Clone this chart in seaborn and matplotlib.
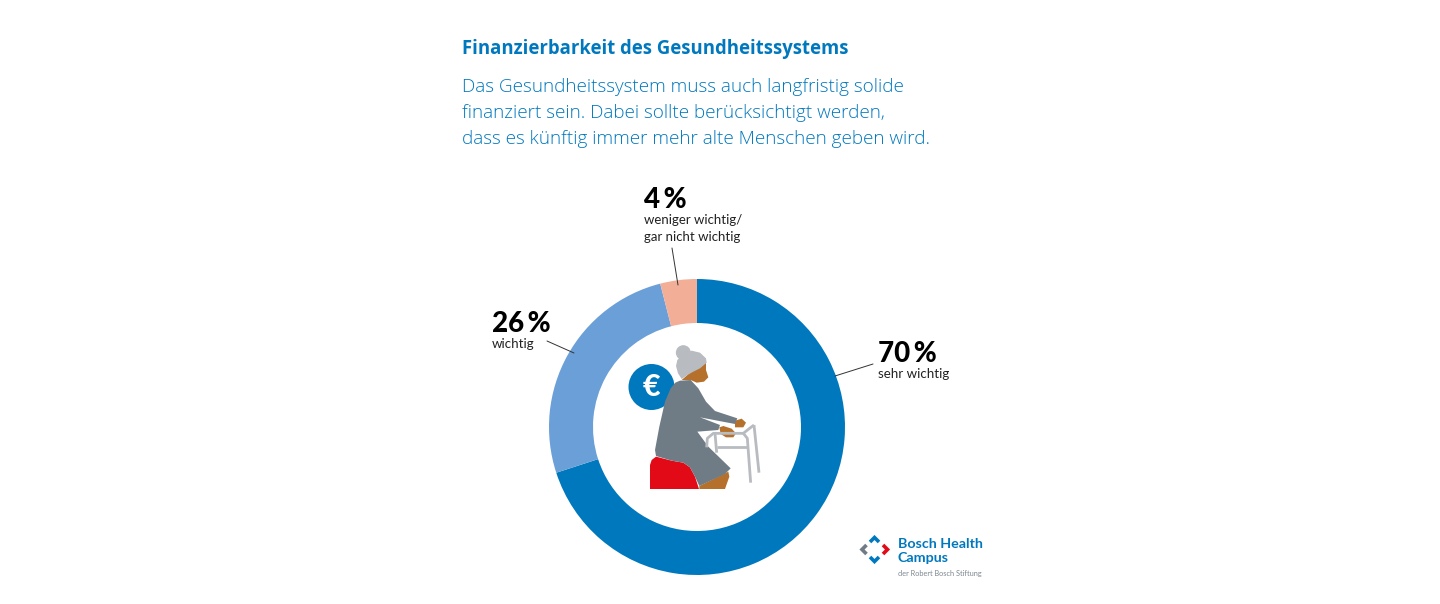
import matplotlib
matplotlib.use("Agg")
import matplotlib.pyplot as plt
from matplotlib.patches import Circle, Polygon
import seaborn as sns

# chart data
labels = ["sehr wichtig", "wichtig", "weniger wichtig/\ngar nicht wichtig"]
values = [70, 26, 4]
pct_labels = ["70\u2009%", "26\u2009%", "4\u2009%"]
colors = ["#0078BE", "#6A9FD8", "#F2AE97"]

title = "Finanzierbarkeit des Gesundheitssystems"
subtitle = [
    "Das Gesundheitssystem muss auch langfristig solide",
    "finanziert sein. Dabei sollte berücksichtigt werden,",
    "dass es künftig immer mehr alte Menschen geben wird.",
]

W, H = 1440, 604
BLUE = "#0078BE"
GREY = "#707C85"
SILVER = "#B8BBC0"
BROWN = "#B5712C"
RED = "#E20A17"

sns.set_theme(style="white")
plt.rcParams["font.family"] = ["Lato", "Open Sans", "DejaVu Sans"]


def y_(py):
    return H - py


def zoomed(points):
    return [(600 + x / 3, y_(330 + y / 3)) for x, y in points]


def fill(ax, points, color):
    ax.add_patch(Polygon(zoomed(points), color=color, lw=0))


def draw_person(ax):
    ax.add_patch(Circle((651.5, y_(387)), 23, color=BLUE, lw=0))
    ax.text(651.5, y_(386.5), "€", color="white", fontsize=22, fontweight="black",
            ha="center", va="center")

    # walker
    walker = [
        [(320, 352), (322, 325), (340, 310), (430, 310), (445, 298), (462, 285)],
        [(345, 310), (350, 368)],
        [(462, 285), (477, 428)],
        [(350, 350), (440, 350)],
        [(430, 310), (442, 325), (452, 458)],
    ]
    for line in walker:
        pts = zoomed(line)
        ax.plot([p[0] for p in pts], [p[1] for p in pts], color=SILVER, lw=2,
                solid_capstyle="butt", solid_joinstyle="round")

    # far hand
    fill(ax, [(405, 272), (425, 266), (438, 278), (430, 292), (405, 292)], BROWN)

    # leg below the dress
    fill(ax, [(298, 468), (385, 425), (388, 440), (375, 477), (298, 477)], BROWN)

    # seat
    fill(ax, [(150, 477), (150, 405), (155, 390), (168, 380), (215, 392), (250, 398),
              (270, 412), (285, 440), (297, 477)], RED)

    # body, far arm and dress
    body = [(240, 152), (272, 150), (295, 175), (318, 215), (345, 243), (412, 265), (405, 282),
            (300, 262), (360, 285), (355, 300), (292, 305), (325, 350), (392, 415), (375, 432),
            (298, 468), (285, 440), (270, 412), (250, 398), (215, 392), (168, 378), (165, 360),
            (178, 290), (195, 215), (212, 175), (226, 158)]
    fill(ax, body, GREY)

    # near hand
    fill(ax, [(358, 292), (370, 288), (395, 296), (408, 310), (400, 322), (378, 322), (362, 312)], BROWN)

    # face and neck
    fill(ax, [(285, 115), (318, 98), (318, 120), (325, 142), (312, 155), (290, 158), (272, 150),
              (245, 150), (262, 135)], BROWN)

    # hair
    ax.add_patch(Circle((600 + 250 / 3, y_(330 + 68 / 3)), 7.5, color=SILVER, lw=0))
    fill(ax, [(232, 90), (250, 72), (275, 62), (300, 68), (318, 85), (320, 98), (300, 115),
              (280, 125), (262, 135), (245, 147), (234, 130), (228, 108)], SILVER)


def draw_logo(ax):
    chevrons = [
        ([(870, 542), (874.5, 537.5), (879, 542)], BLUE),
        ([(870, 557), (874.5, 561.5), (879, 557)], BLUE),
        ([(866.5, 545), (862, 549.5), (866.5, 554)], GREY),
        ([(883, 545), (887.5, 549.5), (883, 554)], RED),
    ]
    for pts, col in chevrons:
        ax.plot([p[0] for p in pts], [y_(p[1]) for p in pts], color=col, lw=2.6,
                solid_capstyle="butt", solid_joinstyle="miter")
    ax.text(898, y_(543.5), "Bosch Health", color=BLUE, fontsize=10.3, fontweight="bold", va="center")
    ax.text(898, y_(557.5), "Campus", color=BLUE, fontsize=10.3, fontweight="bold", va="center")
    ax.text(898, y_(573.5), "der Robert Bosch Stiftung", color="#7D8790", fontsize=5.35, va="center")


fig = plt.figure(figsize=(W / 100, H / 100), dpi=100)
ax = fig.add_axes([0, 0, 1, 1])

# slices run clockwise from the top
ax.pie(values, colors=colors, startangle=90, counterclock=False,
       center=(697, y_(427)), radius=148,
       wedgeprops={"width": 44, "linewidth": 0})

ax.set_xlim(0, W)
ax.set_ylim(0, H)
ax.set_aspect("equal")
ax.axis("off")

ax.text(462, y_(49), title, color=BLUE, fontsize=13.35, fontweight="bold", va="center",
        family="Open Sans")
for i, line in enumerate(subtitle):
    ax.text(462, y_(87.5 + i * 26), line, color=BLUE, fontsize=13.6, fontweight="light", va="center",
            family="Open Sans")

# value labels with leader lines
ax.text(878, y_(353.5), pct_labels[0], color="black", fontsize=20, fontweight="black", va="center")
ax.text(878, y_(374), labels[0], color="#222222", fontsize=9.6, va="center")
ax.plot([835, 873], [y_(376), y_(364)], color="#333333", lw=0.7)

ax.text(492, y_(323.5), pct_labels[1], color="black", fontsize=20, fontweight="black", va="center")
ax.text(492, y_(344), labels[1], color="#222222", fontsize=9.6, va="center")
ax.plot([547, 574], [y_(341), y_(353)], color="#333333", lw=0.7)

ax.text(644, y_(199.5), pct_labels[2], color="black", fontsize=20, fontweight="black", va="center")
for i, line in enumerate(labels[2].split("\n")):
    ax.text(644, y_(220 + i * 17), line, color="#222222", fontsize=9.5, va="center")
ax.plot([672, 678], [y_(248), y_(285)], color="#333333", lw=0.7)

draw_person(ax)
draw_logo(ax)

fig.savefig("out.png", dpi=100, facecolor="white")
plt.close(fig)
